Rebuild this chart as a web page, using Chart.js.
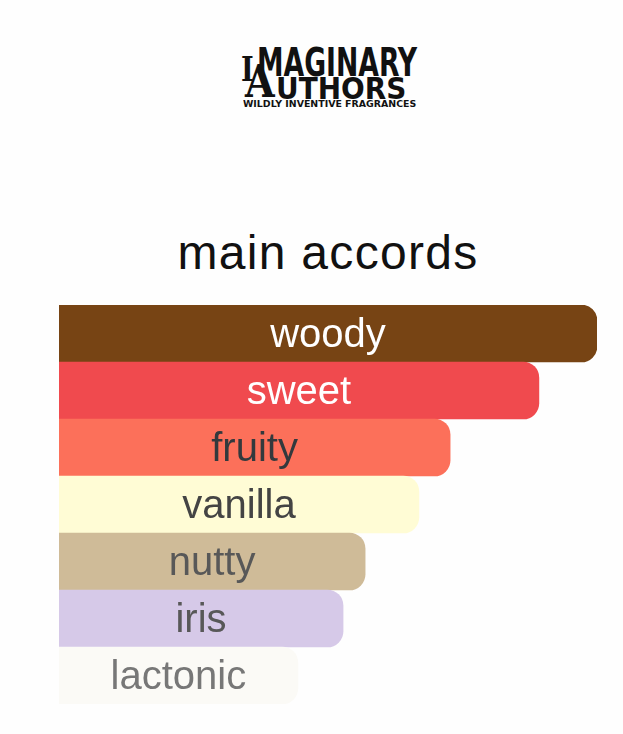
<!DOCTYPE html>
<html>
<head>
<meta charset="utf-8">
<script src="https://cdn.jsdelivr.net/npm/chart.js@4"></script>
<style>
  html, body { margin: 0; padding: 0; background: #fefefe; }
  body { width: 623px; height: 734px; position: relative; overflow: hidden; font-family: "Liberation Sans", Arial, sans-serif; }
  .logo span { position: absolute; color: #111; white-space: nowrap; transform-origin: 0 0; line-height: 1; }
  #title { position: absolute; left: 0; width: 656px; top: 225px; text-align: center; font-size: 48px; letter-spacing: 1.3px; color: #111; }
  #wrap { position: absolute; left: 0; top: 305px; width: 623px; height: 399px; }
</style>
</head>
<body>
<div class="logo">
  <span style="left:241px;top:52px;font-family:'DejaVu Serif';font-weight:bold;font-size:34px;transform:scaleX(0.8)">I</span>
  <span style="left:257px;top:43px;font-family:'DejaVu Sans Condensed','DejaVu Sans';font-weight:bold;font-size:39px;transform:scaleX(0.76)">MAGINARY</span>
  <span style="left:245px;top:59px;font-family:'DejaVu Serif';font-weight:bold;font-size:45px;transform:scaleX(0.85)">A</span>
  <span style="left:276px;top:73px;font-family:'DejaVu Sans Condensed','DejaVu Sans';font-weight:bold;font-size:31px;transform:scaleX(1.0)">UTHORS</span>
  <span style="left:243px;top:99px;font-family:'DejaVu Sans';font-weight:bold;font-size:9.5px;transform:scaleX(0.99)">WILDLY INVENTIVE FRAGRANCES</span>
</div>
<div id="title">main accords</div>
<div id="wrap"><canvas id="accords"></canvas></div>
<script>
// datos de los acordes principales
const accordNames = ['woody', 'sweet', 'fruity', 'vanilla', 'nutty', 'iris', 'lactonic'];
const accordValues = [100, 89.2, 72.7, 66.9, 56.9, 52.8, 44.4];
const barColors = ['#774414', '#F04A4E', '#FC705A', '#FFFCD5', '#CFBB98', '#D6C9E8', '#FBFAF6'];
const textColors = ['#ffffff', '#ffffff', '#33393d', '#444444', '#585858', '#585858', '#777777'];

// escribe el nombre del acorde en el centro de cada barra
const barLabels = {
    id: 'barLabels',
    afterDatasetsDraw(chart) {
        const ctx = chart.ctx;
        const meta = chart.getDatasetMeta(0);
        ctx.save();
        ctx.font = '40px "Liberation Sans", Arial, sans-serif';
        ctx.textAlign = 'center';
        ctx.textBaseline = 'middle';
        meta.data.forEach((bar, i) => {
            const cx = (bar.base + bar.x) / 2;
            ctx.fillStyle = textColors[i];
            ctx.fillText(accordNames[i], cx, bar.y + 2);
        });
        ctx.restore();
    }
};

const ctx = document.getElementById('accords').getContext('2d');
new Chart(ctx, {
    type: 'bar',
    data: {
        labels: accordNames,
        datasets: [{
            data: accordValues,
            backgroundColor: barColors,
            borderRadius: 16,
            barPercentage: 1,
            categoryPercentage: 1
        }]
    },
    options: {
        indexAxis: 'y',
        responsive: true,
        maintainAspectRatio: false,
        animation: false,
        layout: { padding: { left: 59, right: 26, top: 0, bottom: 0 } },
        plugins: { legend: { display: false }, tooltip: { enabled: false } },
        scales: {
            x: { display: false, min: 0, max: 100 },
            y: { display: false }
        }
    },
    plugins: [barLabels]
});
</script>
</body>
</html>
